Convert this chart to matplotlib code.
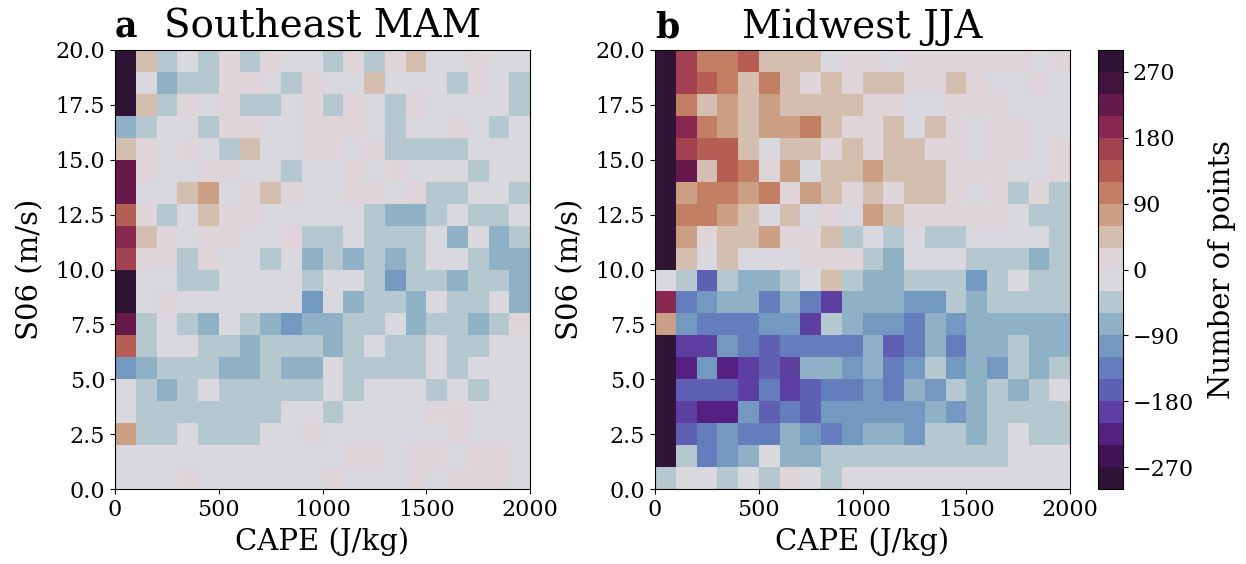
import numpy as np
import matplotlib
matplotlib.use("Agg")
import matplotlib.pyplot as plt

plt.rcParams.update({
    "font.family": "serif", "font.serif": ["DejaVu Serif"],
    "xtick.labelsize": 16, "ytick.labelsize": 16,
})

# bin edges
cape_edges = np.arange(0, 2001, 100)
s06_edges = np.arange(0, 21, 1)

# difference in number of points, rows listed from top (S06 19-20) to bottom (0-1)
southeast_mam = [
    [285, 45, -45, -15, -45, 15, -45, 15, -15, -15, -45, 15, -45, 15, 45, -15, -15, 15, -15, -15],
    [285, -15, -75, -45, -45, 15, 15, -15, -45, 15, -15, -15, 45, -15, -15, -15, -45, 15, -15, -45],
    [285, 45, -45, 15, -15, 15, -45, -45, -15, 15, -45, 15, -15, -45, 15, -15, -15, -15, -15, -45],
    [-75, -45, -15, -15, -45, 15, 15, -15, -15, 15, 15, 15, -15, -45, -15, -15, 15, -15, -45, -15],
    [45, 15, -15, 15, -15, -45, 45, -15, -15, 15, 15, -15, 15, -45, -45, -45, -45, -15, -15, -15],
    [225, 15, -15, -15, 15, 15, -15, -15, -45, -15, -15, 15, -15, 15, -15, -15, -15, -45, -15, -15],
    [225, -15, -15, 45, 75, -15, 15, 45, 15, -15, -15, 15, 15, -15, 15, -45, -45, -15, -15, -45],
    [135, 15, -45, -15, 45, 15, 15, -15, -15, -15, -15, -15, -45, -75, -75, -45, -15, -45, -45, -15],
    [195, 45, 15, -15, 15, 15, -15, -15, 15, -45, -45, -15, -45, -45, -45, -15, -75, -15, -75, -45],
    [165, 15, 15, -45, 15, -15, -15, -45, -15, -75, -45, -75, -45, -75, -45, -15, -15, -45, -75, -75],
    [285, -15, -15, -45, -45, -15, -15, -15, -15, -45, -15, -15, -45, -105, -45, -45, -75, -45, -45, -75],
    [285, -15, 15, -15, -15, -15, -15, -15, -15, -105, -15, -75, -45, -45, -75, -15, -45, -45, -15, -75],
    [225, -45, -15, -45, -75, -15, -45, -75, -105, -75, -75, -45, -45, -15, -75, -45, -45, -75, -45, 15],
    [135, -45, -15, -15, -45, -45, -75, -45, -45, -45, -75, -45, -15, -45, -45, -15, -45, -45, -15, -15],
    [-105, -75, -45, -45, -45, -75, -75, -45, -75, -75, -15, -45, -45, -45, -45, -15, -45, -15, -15, -15],
    [-15, -45, -75, -45, -15, -45, -45, -45, -45, -45, -15, -45, -15, -15, -15, -45, -15, -45, -15, -15],
    [-15, -45, -45, -45, -45, -45, -45, -45, -15, -15, -45, -15, -15, -15, -15, 15, 15, -15, -15, -15],
    [75, -45, -45, -15, -45, -45, -45, -15, -15, 15, -15, -15, -15, -15, -15, -15, 15, -15, -15, -15],
    [-15, -15, -15, -15, -15, -15, -15, -15, -15, -15, -15, 15, 15, -15, 15, 15, -15, 15, 15, -15],
    [-15, -15, -15, 15, -15, -15, -15, -15, -15, -15, 15, -15, -15, -15, 15, -15, 15, 15, 15, -15],
]

midwest_jja = [
    [285, 165, 105, 105, 135, 45, 45, 45, -15, 15, 15, -15, 15, 15, 15, 15, 15, 15, -15, 15],
    [285, 165, 135, 105, 45, 105, 45, 15, 45, 15, 45, 45, 15, 15, 45, 15, -15, -15, 15, -15],
    [285, 105, 45, 75, 45, 75, 45, 45, 45, 45, 15, 15, -15, -15, 15, 15, 15, -15, -15, -15],
    [285, 195, 105, 75, 45, 75, 75, 105, 45, 15, 15, 45, -15, 45, 15, -15, 15, 15, -15, -15],
    [285, 165, 135, 135, 45, -15, 45, 45, 15, 45, 15, 45, 45, 15, 15, -15, 15, 15, -15, 15],
    [285, 225, 45, 135, 105, 15, 75, -15, 45, 45, 75, 45, 45, 45, 15, 15, 15, -15, -15, 15],
    [285, 75, 105, 105, 75, 105, 15, 75, 45, 15, 45, 15, 45, 45, 15, -15, 15, -45, 15, -45],
    [285, 105, 105, 75, 45, -15, 45, -15, 15, -15, 75, 45, 15, 15, 15, 15, 15, -15, -45, -45],
    [285, 75, 15, 45, 45, 75, 15, 15, 45, -45, -15, -45, -15, -45, -45, -15, -15, -15, -15, -45],
    [285, 45, -15, 45, -15, -15, -15, 15, 15, 15, -45, -75, -15, -15, -15, -45, -45, -45, -75, -45],
    [-15, -45, -165, -45, -75, -75, -45, -15, 45, -45, -75, -75, -45, -45, -45, -105, -45, -15, -45, -45],
    [195, -135, -105, -75, -75, -135, -75, -135, -195, -75, -75, -75, -105, -105, -45, -75, -45, -45, -45, -45],
    [75, -105, -135, -135, -135, -105, -105, -195, -45, -75, -105, -105, -135, -75, -105, -75, -75, -75, -75, -75],
    [-285, -195, -195, -105, -135, -165, -135, -135, -135, -135, -75, -165, -135, -75, -135, -75, -75, -45, -75, -75],
    [-285, -225, -105, -225, -195, -165, -195, -75, -75, -105, -75, -135, -105, -45, -105, -75, -105, -45, -75, -45],
    [-285, -165, -165, -165, -195, -135, -195, -165, -135, -135, -105, -135, -75, -105, -45, -75, -45, -75, -45, -15],
    [-285, -195, -225, -225, -105, -165, -135, -165, -105, -105, -105, -105, -105, -75, -105, -75, -45, -45, -45, -45],
    [-285, -165, -135, -105, -135, -135, -75, -105, -135, -105, -75, -75, -105, -45, -45, -75, -45, -15, -45, -45],
    [-285, -45, -135, -105, -75, -15, -75, -75, -45, -45, -45, -45, -45, -45, -45, -45, -45, -15, -15, -15],
    [-45, -15, -15, -45, -15, -45, 15, -15, -45, -15, -15, -15, -15, -15, -15, -15, -15, -15, -15, -15],
]

panels = [("a", "Southeast MAM", southeast_mam), ("b", "Midwest JJA", midwest_jja)]
cbar_ticks = [-270, -180, -90, 0, 90, 180, 270]

cmap = plt.get_cmap("twilight_shifted", 20)

fig = plt.figure(figsize=(12.46, 5.64), dpi=100)
W, H = 1246, 564
ax_boxes = [(115, 50, 530, 489), (655, 50, 1070, 489)]

for (letter, title, grid), (x0, y0, x1, y1) in zip(panels, ax_boxes):
    ax = fig.add_axes([x0 / W, 1 - y1 / H, (x1 - x0) / W, (y1 - y0) / H])
    z = np.flipud(np.array(grid, dtype=float))
    mesh = ax.pcolormesh(cape_edges, s06_edges, z, cmap=cmap,
                         vmin=-300, vmax=300)
    ax.set_xlim(0, 2000)
    ax.set_ylim(0, 20)
    ax.set_xticks([0, 500, 1000, 1500, 2000])
    ax.set_yticks(np.arange(0, 20.1, 2.5))
    ax.set_yticklabels([f"{v:.1f}" for v in np.arange(0, 20.1, 2.5)])
    ax.set_xlabel("CAPE (J/kg)", fontsize=21, labelpad=5)
    ax.set_ylabel("S06 (m/s)", fontsize=21, labelpad=8)
    ax.set_title(title, fontsize=28, pad=9)
    ax.set_title(letter, loc="left", fontsize=25, fontweight="bold", pad=9)

cax = fig.add_axes([1098 / W, 1 - 489 / H, 25 / W, 439 / H])
cb = fig.colorbar(mesh, cax=cax, ticks=cbar_ticks)
cb.ax.tick_params(labelsize=16)
cb.set_label("Number of points", fontsize=21, labelpad=10)

fig.savefig("out.png", dpi=100)
